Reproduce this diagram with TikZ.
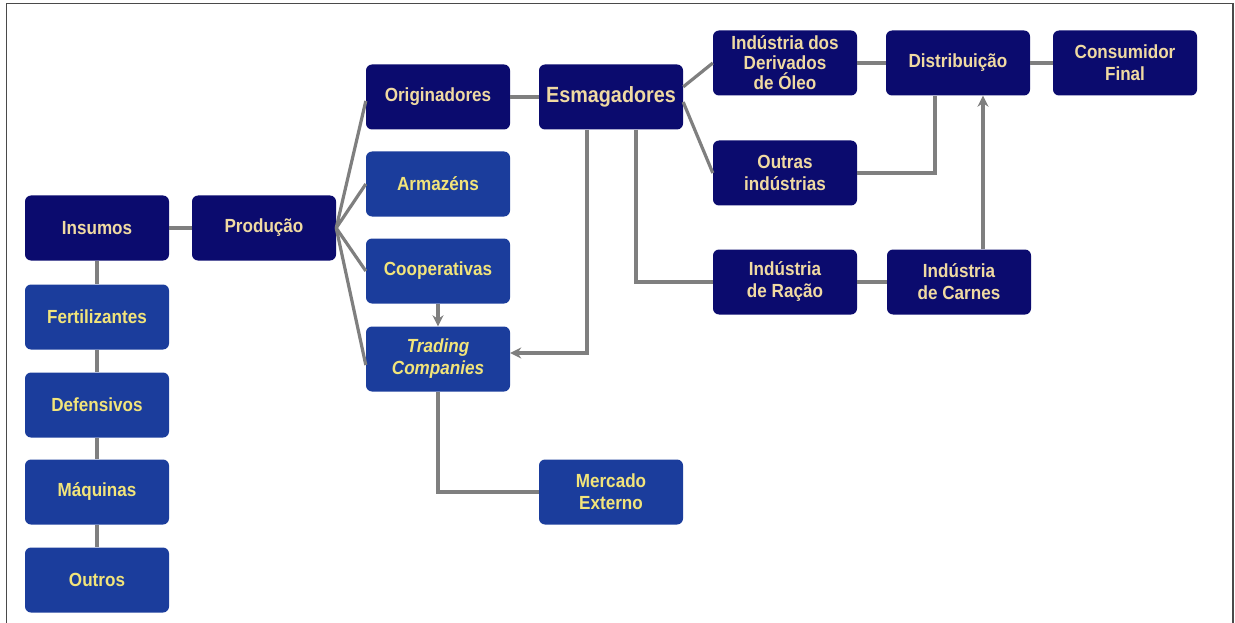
\documentclass[tikz,border=0pt]{standalone}
\usepackage{fontspec}
\setmainfont{Liberation Sans}[FakeStretch=0.9]
\usetikzlibrary{arrows.meta,calc}
\definecolor{navy}{HTML}{0B0B6E}
\definecolor{midblue}{HTML}{1B3D9C}
\definecolor{tan}{HTML}{F0DAA2}
\definecolor{yel}{HTML}{F2E47A}
\definecolor{conn}{HTML}{7F7F7F}
\definecolor{frame}{HTML}{4A4A4A}
\tikzset{
  box/.style={rounded corners=6pt, minimum width=144pt, minimum height=65pt,
    inner sep=2pt, align=center, font=\fontsize{19}{20}\selectfont\bfseries},
  darkbox/.style={box, fill=navy, text=tan},
  bluebox/.style={box, fill=midblue, text=yel},
  conline/.style={draw=conn, line width=3.2pt},
  arr/.style={conline, -{Stealth[length=11pt,width=11pt]}}
}
\begin{document}
\begin{tikzpicture}[x=1pt,y=-1pt]
\useasboundingbox (0,0) rectangle (1235,623);
\draw[frame, line width=1.6pt] (6.5,623) -- (6.5,3.5) -- (1233,3.5) -- (1233,623);

\node[darkbox] (ins) at (97,228) {Insumos};
\node[darkbox] (prod) at (264,228) {Produção};
\node[bluebox] (fert) at (97,317) {Fertilizantes};
\node[bluebox] (def) at (97,405) {Defensivos};
\node[bluebox] (maq) at (97,492) {Máquinas};
\node[bluebox] (out) at (97,580) {Outros};

\node[darkbox] (orig) at (438,97) {Originadores};
\node[bluebox] (arm) at (438,184) {Armazéns};
\node[bluebox] (coop) at (438,271) {Cooperativas};
\node[bluebox, font=\fontsize{19}{22}\selectfont\bfseries] (trad) at (438,359) {\itshape Trading\\\itshape Companies};
\node[bluebox, font=\fontsize{19}{22}\selectfont\bfseries] (merc) at (611,492) {Mercado\\Externo};

\node[darkbox, font=\fontsize{22}{24}\selectfont\bfseries] (esm) at (611,97) {Esmagadores};
\node[darkbox] (deriv) at (785,63) {Indústria dos\\Derivados\\de Óleo};
\node[darkbox, font=\fontsize{19}{22}\selectfont\bfseries] (outr) at (785,173) {Outras\\indústrias};
\node[darkbox, font=\fontsize{19}{22}\selectfont\bfseries] (rac) at (785,282) {Indústria\\de Ração};
\node[darkbox] (dist) at (958,63) {Distribuição};
\node[darkbox, font=\fontsize{19}{22}\selectfont\bfseries] (carn) at (959,282) {Indústria\\de Carnes};
\node[darkbox, font=\fontsize{19}{22}\selectfont\bfseries] (cons) at (1125,63) {Consumidor\\Final};

% left column
\draw[conline] (ins) -- (prod);
\draw[conline] (ins) -- (fert);
\draw[conline] (fert) -- (def);
\draw[conline] (def) -- (maq);
\draw[conline] (maq) -- (out);

% fan from Produção
\draw[conline] (prod.east) -- ([yshift=-4pt]orig.west);
\draw[conline] (prod.east) -- (arm.west);
\draw[conline] (prod.east) -- (coop.west);
\draw[conline] (prod.east) -- ([yshift=-6pt]trad.west);

\draw[arr] (coop) -- (trad);
\draw[conline] (trad.south) |- (merc.west);

\draw[conline] (orig) -- (esm);
\draw[arr] ([xshift=-24pt]esm.south) |- ([yshift=6pt]trad.east);
\draw[conline] ([xshift=25pt]esm.south) |- (rac.west);
\draw[conline] (esm.8) -- (deriv.west);
\draw[conline] (esm.-4) -- (outr.west);

\draw[conline] (deriv) -- (dist);
\draw[conline] (dist) -- (cons);
\draw[conline] (outr.east) -| ([xshift=-23pt]dist.south);
\draw[conline] (rac) -- (carn);
\draw[arr] ([xshift=24pt]carn.north) -- ([xshift=24pt]carn.north |- dist.south);
\end{tikzpicture}
\end{document}
